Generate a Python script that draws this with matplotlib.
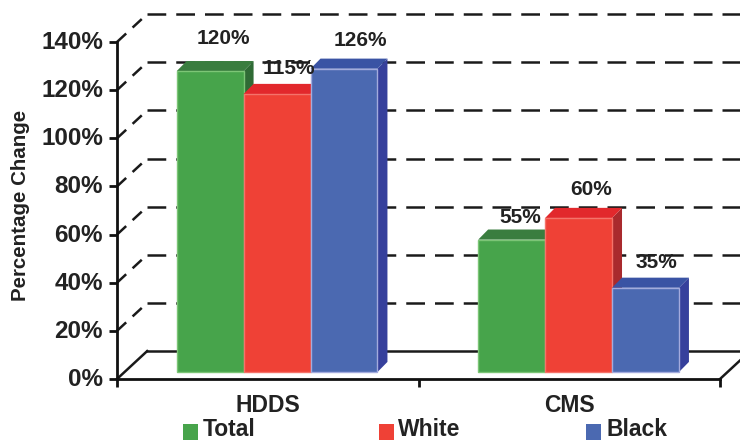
import numpy as np
import matplotlib
matplotlib.use('Agg')
import matplotlib.pyplot as plt
from matplotlib.patches import Rectangle
from matplotlib.transforms import ScaledTranslation

plt.rcParams['font.family'] = ['Liberation Sans', 'DejaVu Sans']
plt.rcParams['font.weight'] = 'bold'

categories = ['HDDS', 'CMS']
series = ['Total', 'White', 'Black']
# heights as drawn in the picture, the printed labels do not always agree with them
total_heights = [125, 55]
white_heights = [115.5, 64]
black_heights = [126, 35]
total_labels = ['120%', '55%']
white_labels = ['115%', '60%']
black_labels = ['126%', '35%']
y_ticks = [0, 20, 40, 60, 80, 100, 120, 140]

front_colors = ['#47A44B', '#EF4136', '#4B69B1']
top_colors = ['#3A7D3F', '#E2282C', '#3A53A4']
side_colors = ['#2F6B35', '#A92A2D', '#36409C']
edge_colors = ['#7CC576', '#F4736A', '#A3ABDD']
text_color = '#222222'

W, H = 740, 441
fig = plt.figure(figsize=(W / 100, H / 100), dpi=100)
ax = fig.add_axes([117 / W, 1 - 379 / H, (720 - 117) / W, (379 - 42) / H])
ax.set_xlim(0, 2)
ax.set_ylim(0, 140)

# depth of the fake 3d box and of the bars
wall_dx, wall_dy = 0.1, 11.6
bar_dx, bar_dy = 0.033, 4.2
base = 2.9
bar_w = 0.222
offset = 0.031

# back wall and left wall lines
for t in y_ticks:
    style = dict(color='#1a1a1a', lw=1.8, clip_on=False, zorder=1)
    if t == 0:
        ax.plot([0, wall_dx], [0, wall_dy], **style)
        ax.plot([wall_dx, 2.07], [wall_dy, wall_dy], **style)
        ax.plot([2, 2.066], [0, 0.066 / wall_dx * wall_dy], **style)
    else:
        ax.plot([0, wall_dx], [t, t + wall_dy], ls=(0, (5, 3.5)), **style)
        ax.plot([wall_dx, 2.07], [t + wall_dy, t + wall_dy], ls=(0, (7.5, 4)), **style)

heights = [total_heights, white_heights, black_heights]
labels = [total_labels, white_labels, black_labels]

for c in range(len(categories)):
    for s in range(len(series)):
        h = heights[s][c]
        left = c + 0.5 + offset + (s - 1.5) * bar_w
        right = left + bar_w
        top = base + h
        ax.fill([right, right + bar_dx, right + bar_dx, right],
                [base, base + bar_dy, top + bar_dy, top],
                color=side_colors[s], lw=0, zorder=2 + s)
        ax.fill([left, left + bar_dx, right + bar_dx, right],
                [top, top + bar_dy, top + bar_dy, top],
                color=top_colors[s], lw=0, zorder=2 + s)
        ax.bar(left, h, bar_w, bottom=base, align='edge', color=front_colors[s],
               edgecolor=edge_colors[s], linewidth=1, zorder=2 + s)

# value labels sit on top of everything
label_pos = {
    (0, 0): (223, 38), (0, 1): (289, 68), (0, 2): (360, 40),
    (1, 0): (520, 218), (1, 1): (591, 190), (1, 2): (656, 262),
}
for (c, s), (px, py) in label_pos.items():
    fig.text(px / W, 1 - py / H, labels[s][c], ha='center', va='center',
             fontsize=15, color=text_color, zorder=10)

ax.set_yticks(y_ticks)
ax.set_yticklabels([f'{t}%' for t in y_ticks], fontsize=17.5, color=text_color)
ax.set_xticks([0, 1, 2])
ax.set_xticklabels([])
ax.set_xticks([0.5, 1.5], minor=True)
ax.set_xticklabels(categories, minor=True, fontsize=16.5, color=text_color)
ax.tick_params(axis='x', which='major', length=6, width=2, color='#111111')
ax.tick_params(axis='x', which='minor', length=0, pad=11)
ax.tick_params(axis='y', length=6, width=2, color='#111111', pad=4)

# tick labels sit a little above their ticks in the original
lift = ScaledTranslation(0, 2 / 100, fig.dpi_scale_trans)
for lab in ax.get_yticklabels():
    lab.set_transform(lab.get_transform() + lift)

ax.patch.set_visible(False)
for side in ['top', 'right']:
    ax.spines[side].set_visible(False)
for side in ['left', 'bottom']:
    ax.spines[side].set_linewidth(2)
    ax.spines[side].set_color('#111111')
    ax.spines[side].set_zorder(8)

fig.text(21 / W, 1 - 205 / H, 'Percentage Change', rotation=90, ha='center',
         va='center', fontsize=14.8, color=text_color)

# legend placed by hand, the spacing is uneven in the original
legend_x = [183, 379, 586]
text_x = [203, 398, 606]
for s, name in enumerate(series):
    fig.add_artist(Rectangle((legend_x[s] / W, 1 - 440 / H), 15 / W, 16 / H,
                             transform=fig.transFigure, color=front_colors[s], lw=0))
    fig.text(text_x[s] / W, 1 - 429.5 / H, name, ha='left', va='center',
             fontsize=16.5, color=text_color)

fig.savefig('out.png', dpi=100)
